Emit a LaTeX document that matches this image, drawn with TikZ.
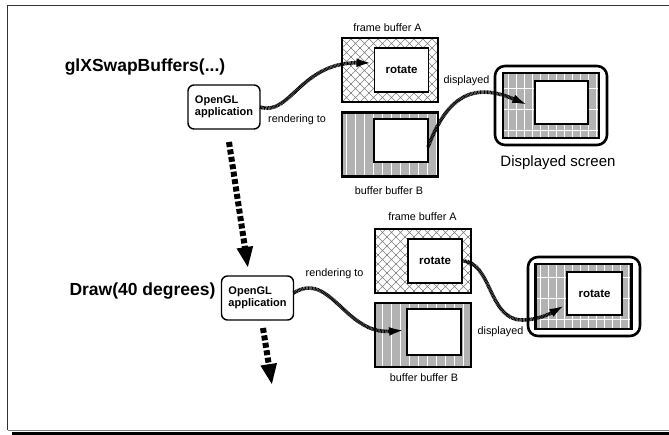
\documentclass[tikz,border=0pt]{standalone}
\usepackage{fontspec}
\setmainfont{Liberation Sans}
\usetikzlibrary{arrows.meta,patterns}

% diamond lattice for the front buffer
\pgfdeclarepatternformonly{lattice}{\pgfqpoint{-1pt}{-1pt}}{\pgfqpoint{10pt}{10pt}}{\pgfqpoint{9pt}{9pt}}{%
  \pgfsetlinewidth{0.55pt}%
  \pgfpathmoveto{\pgfqpoint{-0.5pt}{-0.5pt}}\pgfpathlineto{\pgfqpoint{9.5pt}{9.5pt}}%
  \pgfpathmoveto{\pgfqpoint{-0.5pt}{9.5pt}}\pgfpathlineto{\pgfqpoint{9.5pt}{-0.5pt}}%
  \pgfusepath{stroke}}
% vertical stripes for the back buffer
\pgfdeclarepatternformonly{vstripes}{\pgfqpoint{0pt}{-1pt}}{\pgfqpoint{9pt}{10pt}}{\pgfqpoint{9pt}{9pt}}{%
  \pgfsetlinewidth{0.7pt}%
  \pgfpathmoveto{\pgfqpoint{4.5pt}{-1pt}}\pgfpathlineto{\pgfqpoint{4.5pt}{10pt}}%
  \pgfusepath{stroke}}
% grid of light lines for the screen
\pgfdeclarepatternformonly{wgrid}{\pgfqpoint{-1pt}{-1pt}}{\pgfqpoint{9pt}{22pt}}{\pgfqpoint{8pt}{21pt}}{%
  \pgfsetlinewidth{0.7pt}%
  \pgfpathmoveto{\pgfqpoint{4pt}{-1pt}}\pgfpathlineto{\pgfqpoint{4pt}{22pt}}%
  \pgfpathmoveto{\pgfqpoint{-1pt}{10.5pt}}\pgfpathlineto{\pgfqpoint{9pt}{10.5pt}}%
  \pgfusepath{stroke}}

\begin{document}
\begin{tikzpicture}[x=1pt,y=-1pt,
  every node/.style={inner sep=0pt, outer sep=0pt},
  heading/.style={font=\fontsize{17.5}{20}\selectfont\bfseries},
  tag/.style={font=\fontsize{10.8}{12}\selectfont},
  app/.style={draw, line width=1.4pt, rounded corners=6pt, minimum width=72pt,
    minimum height=44pt, font=\fontsize{11}{12}\selectfont\bfseries, align=left},
  bufA/.style={draw, line width=2.6pt, minimum width=96pt, minimum height=64pt,
    preaction={fill=white}, pattern=lattice, pattern color=black!50},
  bufB/.style={draw, line width=2.6pt, minimum width=96pt, minimum height=64pt,
    preaction={fill=black!30}, pattern=vstripes, pattern color=white},
  screen/.style={draw, line width=2.6pt, rounded corners=10pt, minimum width=112pt,
    minimum height=79pt, fill=white},
  shade/.style={draw, line width=2.4pt, minimum width=96pt, minimum height=65pt,
    preaction={fill=black!30}, pattern=wgrid, pattern color=white},
  pane/.style={draw, line width=1.8pt, fill=white, minimum width=54pt,
    minimum height=44pt, font=\fontsize{11.5}{13}\selectfont\bfseries},
  rope/.style={line width=3.6pt, dash pattern=on 0.9pt off 0.5pt,
    -{Latex[length=18pt,width=8.5pt]}},
  flow/.style={line width=6pt, dash pattern=on 5pt off 2.5pt,
    -{Triangle[length=21pt,width=15pt]}}
]
\useasboundingbox (0,0) rectangle (669,435);

% page frame
\draw[line width=1.3pt, black!80] (669,5.3) -- (7.5,5.3) -- (7.5,430);
\draw[line width=0.8pt, black!50] (7.5,430) -- (669,430);
\fill (12,432) rectangle (669,435);

% calls
\node[heading] (swap) at (145,67) {glXSwapBuffers(...)};
\node[heading] (drawcall) at (142.5,291) {Draw(40 degrees)};

% application boxes
\node[app] (app1) at (224,107) {OpenGL\\application};
\node[app] (app2) at (257.5,298) {OpenGL\\application};

% first step: buffers
\node[bufA] (fa1) at (390,70) {};
\node[pane] (fa1in) at (401.5,70) {rotate};
\node[bufB] (fb1) at (390,144.5) {};
\node[pane, minimum height=43pt] (fb1in) at (401,140.5) {};
\node[tag] (fa1lbl) at (387.5,28) {frame buffer A};
\node[tag] (fb1lbl) at (389,191) {buffer buffer B};

% second step: buffers
\node[bufA] (fa2) at (423,261) {};
\node[pane] (fa2in) at (435,261) {rotate};
\node[bufB] (fb2) at (423,335) {};
\node[pane, minimum height=46pt] (fb2in) at (434,332) {};
\node[tag] (fa2lbl) at (422.5,217) {frame buffer A};
\node[tag] (fb2lbl) at (424,378) {buffer buffer B};

% screens
\node[screen] (s1) at (551,105.5) {};
\node[shade] (s1sh) at (551,105.5) {};
\node[pane, minimum width=53pt, minimum height=43pt] (s1in) at (561.5,102.5) {};
\node[font=\fontsize{15}{17}\selectfont] (s1lbl) at (558,163) {Displayed screen};

\node[screen] (s2) at (584,296.5) {};
\node[shade] (s2sh) at (583.5,296.5) {};
\node[pane, minimum width=55pt, minimum height=43pt] (s2in) at (594.5,293.5) {rotate};

% connector labels
\node[tag] (r1) at (297,120) {rendering to};
\node[tag] (r2) at (334.5,274) {rendering to};
\node[tag] (d1) at (466.5,81) {displayed};
\node[tag] (d2) at (500.5,332) {displayed};

% rendering and display paths
\draw[rope] (app1.east) .. controls +(30,10) and +(-74,-1) .. ([yshift=7pt]fa1in.west);
\draw[rope] ([yshift=-6.5pt]fb1in.east) .. controls +(18,-47) and +(-60,-26) .. ([xshift=-5pt,yshift=-3.5pt]s1in.west);
\draw[rope] ([yshift=5pt]app2.east) .. controls +(37,-23) and +(-62,5) .. ([yshift=2pt]fb2in.west);
\draw[rope] (fa2in.east) .. controls +(30,0) and +(-34,0) .. (522,320)
  .. controls +(18,0) and +(-14,8) .. ([yshift=-10.5pt]s2in.west);

% program flow
\draw[flow] ([xshift=5pt,yshift=-13pt]app1.south) -- ([xshift=-9.5pt,yshift=8pt]app2.north);
\coordinate (next) at (272,385);
\draw[flow] ([xshift=5.5pt,yshift=-8pt]app2.south) -- (next);
\end{tikzpicture}
\end{document}
